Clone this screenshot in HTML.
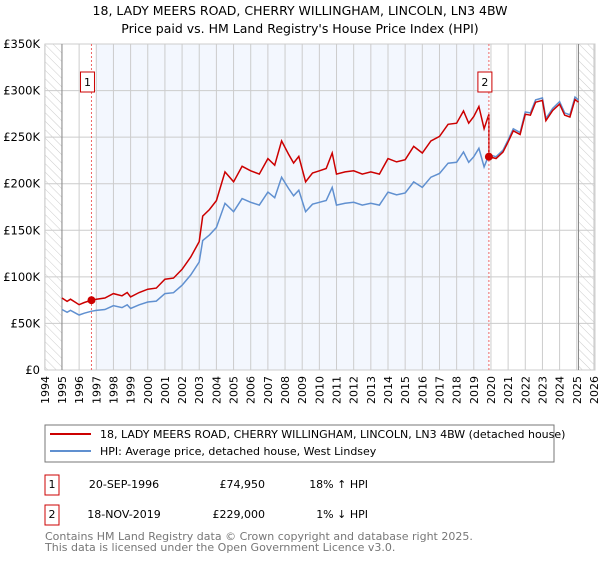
<!DOCTYPE html>
<html><head><meta charset="utf-8"><style>
body{margin:0;background:#fff;width:600px;height:560px;overflow:hidden;font-family:"DejaVu Sans","Liberation Sans",sans-serif;}
svg text{font-family:"DejaVu Sans","Liberation Sans",sans-serif;}
</style></head><body>
<svg id="c" width="600" height="560" xmlns="http://www.w3.org/2000/svg">
<defs><pattern id="hatch" width="6" height="6" patternUnits="userSpaceOnUse" patternTransform="rotate(-45)"><line x1="0" y1="0" x2="0" y2="6" stroke="#ccc" stroke-width="1"/></pattern></defs>
<text x="300" y="15" text-anchor="middle" font-size="12.5" fill="#000">18, LADY MEERS ROAD, CHERRY WILLINGHAM, LINCOLN, LN3 4BW</text>
<text x="300" y="33" text-anchor="middle" font-size="12.5" fill="#000">Price paid vs. HM Land Registry's House Price Index (HPI)</text>
<g id="plot"></g>
<rect x="45" y="425" width="509" height="37" fill="#fff" stroke="#777"/>
<line x1="50" y1="434" x2="91" y2="434" stroke="#cc0000" stroke-width="2"/>
<text x="100" y="438" font-size="11">18, LADY MEERS ROAD, CHERRY WILLINGHAM, LINCOLN, LN3 4BW (detached house)</text>
<line x1="50" y1="451" x2="91" y2="451" stroke="#6090d0" stroke-width="2"/>
<text x="100" y="455" font-size="11">HPI: Average price, detached house, West Lindsey</text>
<g font-size="11">
<rect x="45" y="475" width="14" height="20" fill="#fff" stroke="#cc0000"/>
<text x="52" y="488" text-anchor="middle">1</text>
<text x="124" y="488" text-anchor="middle">20-SEP-1996</text>
<text x="265" y="488" text-anchor="end">£74,950</text>
<text x="368" y="488" text-anchor="end">18% ↑ HPI</text>
<rect x="45" y="505" width="14" height="20" fill="#fff" stroke="#cc0000"/>
<text x="52" y="518" text-anchor="middle">2</text>
<text x="124" y="518" text-anchor="middle">18-NOV-2019</text>
<text x="265" y="518" text-anchor="end">£229,000</text>
<text x="368" y="518" text-anchor="end">1% ↓ HPI</text>
</g>
<text x="45" y="540" font-size="11" fill="#777">Contains HM Land Registry data © Crown copyright and database right 2025.</text>
<text x="45" y="551" font-size="11" fill="#777">This data is licensed under the Open Government Licence v3.0.</text>
</svg>
<script>
const hpiYears=[1995.0,1995.3,1995.5,1995.8,1996.0,1996.3,1996.7,1997.0,1997.5,1998.0,1998.5,1998.8,1999.0,1999.5,2000.0,2000.5,2001.0,2001.5,2002.0,2002.5,2003.0,2003.2,2003.6,2004.0,2004.5,2005.0,2005.5,2006.0,2006.5,2007.0,2007.4,2007.8,2008.2,2008.5,2008.8,2009.2,2009.6,2010.0,2010.4,2010.75,2011.0,2011.5,2012.0,2012.5,2013.0,2013.5,2014.0,2014.5,2015.0,2015.5,2016.0,2016.5,2017.0,2017.5,2018.0,2018.4,2018.7,2019.0,2019.3,2019.6,2019.88,2020.3,2020.7,2021.0,2021.3,2021.7,2022.0,2022.3,2022.6,2023.0,2023.2,2023.6,2024.0,2024.3,2024.6,2024.9,2025.1];
const hpiValues=[65000,62000,64000,61000,59000,61000,63000,64000,65000,69000,67000,70000,66000,70000,73000,74000,82000,83000,91000,102000,116000,139000,145000,153000,179000,170000,184000,180000,177000,191000,185000,207000,195000,187000,193000,170000,178000,180000,182000,196000,177000,179000,180000,177000,179000,177000,191000,188000,190000,202000,196000,207000,211000,222000,223000,234000,223000,229000,238000,218000,231000,229000,236000,247000,259000,255000,277000,276000,290000,292000,270000,281000,288000,276000,274000,293000,290000];
const saleYears=[1996.72,2019.88];
const salePrices=[74950,229000];
const yTicks=[0,50000,100000,150000,200000,250000,300000,350000];
const yTickLabels=["£0","£50K","£100K","£150K","£200K","£250K","£300K","£350K"];
const xTicks=[1994,1995,1996,1997,1998,1999,2000,2001,2002,2003,2004,2005,2006,2007,2008,2009,2010,2011,2012,2013,2014,2015,2016,2017,2018,2019,2020,2021,2022,2023,2024,2025,2026];

const L=45,R=595,T=44,B=370;
const x=v=>44.8+(v-1994)*17.16;
const y=v=>B-(v/350000)*(B-T);
const NS="http://www.w3.org/2000/svg";
const g=document.getElementById('plot');
function mk(t,a){const e=document.createElementNS(NS,t);for(const k in a)e.setAttribute(k,a[k]);g.appendChild(e);return e;}

let e=mk('rect',{x:L,y:T,width:R-L,height:B-T,fill:'#fff'});


e=mk('rect',{x:x(1997),y:T,width:x(saleYears[1])-x(1997),height:B-T,fill:'#eef3fd',opacity:0.7});


e=mk('rect',{x:L,y:T,width:x(1995)-L,height:B-T,fill:'url(#hatch)'});


e=mk('rect',{x:x(2025.1),y:T,width:R-x(2025.1),height:B-T,fill:'url(#hatch)'});


xTicks.forEach(t=>{
  const l=mk('line',{x1:x(t),x2:x(t),y1:T,y2:B,stroke:'#ccc','stroke-width':1});
  
  
  const tx=mk('text',{x:0,y:0,'font-size':11,'text-anchor':'end',transform:`translate(${x(t)+4},${B+6}) rotate(-90)`});
  tx.textContent=t;
  
  
});
yTicks.forEach((t,i)=>{
  const l=mk('line',{x1:L,x2:R,y1:y(t),y2:y(t),stroke:'#ccc','stroke-width':1});
  
  
  const tx=mk('text',{x:40,y:y(t)+4,'font-size':11.5,'text-anchor':'end'});
  tx.textContent=yTickLabels[i];
  
  
});
e=mk('rect',{x:L,y:T,width:R-L,height:B-T,fill:'none',stroke:'#ccc'});


[x(1995),x(2025.1)].forEach(xx=>{const l=mk('line',{x1:xx,x2:xx,y1:T,y2:B,stroke:'#888'});

});

// HPI line
e=mk('path',{d:hpiYears.map((t,i)=>(i?'L':'M')+x(t).toFixed(1)+','+y(hpiValues[i]).toFixed(1)).join(''),fill:'none',stroke:'#6090d0','stroke-width':1.5});


// property line: HPI indexed to sale 1 until sale 2, then indexed to sale 2
function hpiAt(t){for(let i=1;i<hpiYears.length;i++){if(t<=hpiYears[i]){const f=(t-hpiYears[i-1])/(hpiYears[i]-hpiYears[i-1]);return hpiValues[i-1]+f*(hpiValues[i]-hpiValues[i-1]);}}return hpiValues[hpiValues.length-1];}
const r1=salePrices[0]/hpiAt(saleYears[0]), r2=salePrices[1]/hpiAt(saleYears[1]);
let pts=[];
hpiYears.forEach((t,i)=>{if(t<saleYears[1])pts.push([t,hpiValues[i]*r1]);});
pts.push([saleYears[1],hpiAt(saleYears[1])*r1]);
pts.push([saleYears[1],salePrices[1]]);
hpiYears.forEach((t,i)=>{if(t>saleYears[1])pts.push([t,hpiValues[i]*r2]);});
e=mk('path',{d:pts.map((p,i)=>(i?'L':'M')+x(p[0]).toFixed(1)+','+y(p[1]).toFixed(1)).join(''),fill:'none',stroke:'#cc0000','stroke-width':1.5});


saleYears.forEach((t,i)=>{
  const l=mk('line',{x1:x(t),x2:x(t),y1:T,y2:B,stroke:'#e66','stroke-width':1,'stroke-dasharray':'2,2'});
  
  
  const c=mk('circle',{cx:x(t),cy:y(salePrices[i]),r:4,fill:'#cc0000'});
  
  
  const b=mk('rect',{x:x(t)-11,y:72,width:14,height:20,fill:'#fff',stroke:'#cc0000'});
  
  
  const tx=mk('text',{x:x(t)-4,y:86,'font-size':11,'text-anchor':'middle'});
  tx.textContent=String(i+1);
  
  
});
</script>
</body></html>
